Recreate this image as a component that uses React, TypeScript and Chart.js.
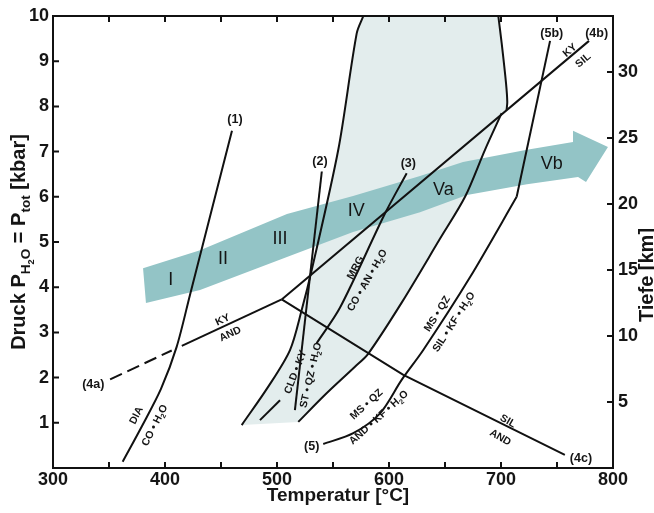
import React, { useEffect, useRef } from "react";
import { Chart, registerables } from "chart.js";

Chart.register(...registerables);

const FONT = '"Liberation Sans", Arial, Helvetica, sans-serif';

// ---------- axes ----------
const tempMin = 300;
const tempMax = 800;
const pressureMin = 0;
const pressureMax = 10;
const depthMax = 34.24; // km at 10 kbar

// ---------- reaction curves (T in °C, P in kbar) ----------
// (1) DIA = CO + H2O
const diaT = [362.2, 379.5, 396.4, 410.4, 422.3, 459.8];
const diaP = [0.14, 0.93, 1.75, 2.68, 3.83, 7.46];

// (4a) KY / AND (dashed part + solid part)
const kyAndDashedT = [351, 406];
const kyAndDashedP = [1.96, 2.6];
const kyAndT = [415, 504.2];
const kyAndP = [2.7, 3.73];
// (4b) KY / SIL
const kySilT = [504.2, 778.6];
const kySilP = [3.73, 9.45];
// (4c) SIL / AND
const andSilT = [504.2, 612.8, 757];
const andSilP = [3.73, 2.06, 0.29];

// (2) CLD + KY = ST + QZ + H2O
const cldKyT = [516, 540];
const cldKyP = [1.28, 6.56];
const cldLowT = [484.8, 502.7];
const cldLowP = [1.06, 1.5];

// (3) MRG = CO + AN + H2O
const mrgT = [535.4, 556.3, 596.4, 615.8];
const mrgP = [2.76, 3.55, 5.63, 6.52];

// (5) MS + QZ = AND/SIL + KF + H2O, (5b)
const msQzT = [541.3, 568.1, 592, 611.3, 630.6, 672.3, 714];
const msQzP = [0.53, 0.77, 1.21, 1.95, 2.61, 4.22, 6.0];
const msQzHighT = [714, 743.8];
const msQzHighP = [6.0, 9.45];

// staurolite field boundaries (shaded field)
const stLowT = [468.5, 492.2, 511.6, 522.1, 531, 554.7, 571.2, 577.1];
const stLowP = [0.95, 1.8, 2.61, 3.5, 4.38, 7.04, 9.62, 10];
const stHighT = [519, 542.9, 569.6, 581.2, 611.6, 645.5, 667.9, 685.7, 700.6];
const stHighP = [1.02, 1.62, 2.24, 2.52, 3.67, 5.07, 6.0, 7.04, 7.85];
const stTopT = [705, 705.6, 704.5, 700.6, 697.6];
const stTopP = [7.92, 8.1, 8.51, 9.4, 10];

// geotherm arrow outline
const arrowT = [380.4, 431.3, 508.9, 567.9, 627.7, 666.1, 723.2, 764.3, 764.3, 795.5, 775.9, 768.8, 723.2, 669.6, 627.7, 567.9, 508.9, 431.3, 383];
const arrowP = [4.42, 4.82, 5.62, 6.02, 6.46, 6.77, 7.04, 7.21, 7.46, 7.1, 6.33, 6.44, 6.28, 6.04, 5.66, 5.22, 4.67, 3.94, 3.65];

// ---------- labels ----------
const curveLabels = ["(1)", "(2)", "(3)", "(4a)", "(4b)", "(4c)", "(5)", "(5b)"];
const curveLabelT = [462.5, 538.4, 617.2, 336, 785.4, 771.4, 531, 745.3];
const curveLabelP = [7.74, 6.81, 6.76, 1.86, 9.64, 0.24, 0.49, 9.64];

const zoneLabels = ["I", "II", "III", "IV", "Va", "Vb"];
const zoneT = [405.2, 451.8, 502.7, 570.8, 648.5, 745.3];
const zoneP = [4.2, 4.65, 5.1, 5.71, 6.19, 6.76];

const phaseLabels = ["KY", "AND", "DIA", "CO • H_2O", "CLD • KY", "ST • QZ • H_2O", "MRG", "CO • AN • H_2O", "MS • QZ", "AND • KF • H_2O", "MS • QZ", "SIL • KF • H_2O", "SIL", "AND", "KY", "SIL"];
const phaseT = [451.2, 458, 373.8, 390.2, 516, 529.5, 569.6, 580.1, 579.5, 590.5, 642.6, 657.4, 706.5, 699.7, 761, 772.9];
const phaseP = [3.29, 2.98, 1.17, 0.95, 2.13, 2.06, 4.44, 4.16, 1.42, 1.13, 3.42, 3.24, 1.05, 0.69, 9.25, 9.03];
const phaseAngle = [-25, -25, -63, -63, -69, -77, -62, -60, -42, -42, -58, -57, 30, 30, -40, -40];

const xTitle = "Temperatur [°C]";
const yTitle = "Druck P_{H_2O} = P_{tot} [kbar]";
const y2Title = "Tiefe [km]";

// ---------- helpers ----------
const pts = (t: number[], p: number[]) => t.map((x, i) => ({ x, y: p[i] }));

type Seg = { text: string; level: number };
function parseRich(s: string, level = 0): Seg[] {
  const out: Seg[] = [];
  let buf = "";
  let i = 0;
  const flush = () => {
    if (buf) {
      out.push({ text: buf, level });
      buf = "";
    }
  };
  while (i < s.length) {
    const c = s[i];
    if (c === "_") {
      flush();
      if (s[i + 1] === "{") {
        let depth = 1;
        let j = i + 2;
        while (j < s.length && depth > 0) {
          if (s[j] === "{") depth++;
          else if (s[j] === "}") depth--;
          j++;
        }
        out.push(...parseRich(s.slice(i + 2, j - 1), level + 1));
        i = j;
      } else {
        out.push({ text: s[i + 1], level: level + 1 });
        i += 2;
      }
    } else {
      buf += c;
      i++;
    }
  }
  flush();
  return out;
}

function drawRich(
  ctx: CanvasRenderingContext2D,
  text: string,
  x: number,
  y: number,
  size: number,
  weight: string,
  angleDeg: number,
  centerV: boolean
) {
  const segs = parseRich(text);
  const sizes = segs.map((s) => size * Math.pow(0.68, s.level));
  const offs = segs.map((s) => {
    let o = 0;
    for (let l = 1; l <= s.level; l++) o += size * Math.pow(0.68, l - 1) * 0.27;
    return o;
  });
  const widths = segs.map((s, i) => {
    ctx.font = `${weight} ${sizes[i]}px ${FONT}`;
    return ctx.measureText(s.text).width;
  });
  const total = widths.reduce((a, b) => a + b, 0);
  ctx.save();
  ctx.translate(x, y);
  ctx.rotate((angleDeg * Math.PI) / 180);
  ctx.textAlign = "left";
  ctx.textBaseline = "alphabetic";
  let cx = -total / 2;
  const by = centerV ? size * 0.36 : 0;
  segs.forEach((s, i) => {
    ctx.font = `${weight} ${sizes[i]}px ${FONT}`;
    ctx.fillText(s.text, cx, by + offs[i]);
    cx += widths[i];
  });
  ctx.restore();
}

const decorPlugin = {
  id: "decor",
  afterDatasetsDraw(chart: any) {
    const ctx: CanvasRenderingContext2D = chart.ctx;
    const xs = chart.scales.x;
    const ys = chart.scales.y;
    ctx.save();
    ctx.fillStyle = "#151515";
    zoneLabels.forEach((t, i) => {
      drawRich(ctx, t, xs.getPixelForValue(zoneT[i]), ys.getPixelForValue(zoneP[i]), 18, "normal", 0, true);
    });
    curveLabels.forEach((t, i) => {
      drawRich(ctx, t, xs.getPixelForValue(curveLabelT[i]), ys.getPixelForValue(curveLabelP[i]), 12.5, "bold", 0, true);
    });
    phaseLabels.forEach((t, i) => {
      drawRich(ctx, t, xs.getPixelForValue(phaseT[i]), ys.getPixelForValue(phaseP[i]), 10.5, "bold", phaseAngle[i], true);
    });
    ctx.restore();
  },
  afterDraw(chart: any) {
    const ctx: CanvasRenderingContext2D = chart.ctx;
    const a = chart.chartArea;
    const xs = chart.scales.x;
    const ys = chart.scales.y;
    const y2 = chart.scales.y2;
    ctx.save();
    ctx.strokeStyle = "#111";
    ctx.lineWidth = 2;
    ctx.strokeRect(a.left, a.top, a.right - a.left, a.bottom - a.top);
    const tl = 6;
    ctx.beginPath();
    xs.ticks.forEach((t: any) => {
      if (t.value <= tempMin || t.value >= tempMax) return;
      const px = xs.getPixelForValue(t.value);
      ctx.moveTo(px, a.bottom);
      ctx.lineTo(px, a.bottom - tl);
      ctx.moveTo(px, a.top);
      ctx.lineTo(px, a.top + tl);
    });
    ys.ticks.forEach((t: any) => {
      if (t.value <= pressureMin || t.value >= pressureMax) return;
      const py = ys.getPixelForValue(t.value);
      ctx.moveTo(a.left, py);
      ctx.lineTo(a.left + tl, py);
    });
    y2.ticks.forEach((t: any) => {
      if (t.value <= 0 || t.value >= depthMax) return;
      const py = y2.getPixelForValue(t.value);
      ctx.moveTo(a.right, py);
      ctx.lineTo(a.right - tl, py);
    });
    ctx.stroke();

    ctx.fillStyle = "#151515";
    drawRich(ctx, xTitle, (a.left + a.right) / 2 + 5, 501, 19, "bold", 0, false);
    drawRich(ctx, yTitle, 25, (a.top + a.bottom) / 2, 20, "bold", -90, false);
    drawRich(ctx, y2Title, 653, 275, 20, "bold", -90, false);
    ctx.restore();
  },
};

export default function App() {
  const ref = useRef<HTMLCanvasElement | null>(null);

  useEffect(() => {
    if (!ref.current) return;
    const lineDs = (t: number[], p: number[], extra: any = {}) => ({
      data: pts(t, p),
      showLine: true,
      borderColor: "#111",
      borderWidth: 2,
      pointRadius: 0,
      fill: false,
      tension: 0.3,
      order: 1,
      ...extra,
    });

    const fieldT = [...stLowT, ...stTopT.slice().reverse(), ...stHighT.slice().reverse()];
    const fieldP = [...stLowP, ...stTopP.slice().reverse(), ...stHighP.slice().reverse()];

    const datasets: any[] = [
      {
        data: pts(fieldT, fieldP),
        showLine: true,
        fill: "shape",
        backgroundColor: "#e3eded",
        borderWidth: 0,
        borderColor: "rgba(0,0,0,0)",
        pointRadius: 0,
        tension: 0,
        order: 10,
      },
      {
        data: pts(arrowT, arrowP),
        showLine: true,
        fill: "shape",
        backgroundColor: "#93c4c6",
        borderWidth: 0,
        borderColor: "rgba(0,0,0,0)",
        pointRadius: 0,
        tension: 0,
        order: 9,
      },
      lineDs(diaT, diaP),
      lineDs(kyAndDashedT, kyAndDashedP, { borderDash: [13, 6], tension: 0 }),
      lineDs(kyAndT, kyAndP, { tension: 0 }),
      lineDs(kySilT, kySilP, { tension: 0 }),
      lineDs(andSilT, andSilP, { tension: 0 }),
      lineDs(cldKyT, cldKyP, { tension: 0 }),
      lineDs(cldLowT, cldLowP, { tension: 0 }),
      lineDs(mrgT, mrgP),
      lineDs(msQzT, msQzP),
      lineDs(msQzHighT, msQzHighP, { tension: 0 }),
      lineDs(stLowT, stLowP),
      lineDs(stHighT, stHighP),
      lineDs(stTopT, stTopP),
    ];

    const tickFont = { family: FONT, size: 18, weight: "bold" as const };

    const chart = new Chart(ref.current, {
      type: "scatter",
      data: { datasets },
      options: {
        responsive: false,
        animation: false,
        events: [],
        layout: { padding: { top: 16, left: 0, right: 0, bottom: 0 } },
        plugins: {
          legend: { display: false },
          tooltip: { enabled: false },
          title: { display: false },
        },
        scales: {
          x: {
            type: "linear",
            position: "bottom",
            min: tempMin,
            max: tempMax,
            grid: { display: false, drawTicks: false },
            border: { display: false },
            ticks: {
              stepSize: 50,
              autoSkip: false,
              maxRotation: 0,
              padding: 1,
              color: "#151515",
              font: tickFont,
              callback: (v: any) => (Number(v) % 100 === 0 ? String(v) : ""),
            },
            afterFit: (s: any) => {
              s.height = 45;
            },
          },
          y: {
            type: "linear",
            position: "left",
            min: pressureMin,
            max: pressureMax,
            grid: { display: false, drawTicks: false },
            border: { display: false },
            ticks: {
              stepSize: 1,
              padding: 4,
              color: "#151515",
              font: tickFont,
              callback: (v: any) => (Number(v) === 0 ? "" : String(v)),
            },
            afterFit: (s: any) => {
              s.width = 53;
            },
          },
          y2: {
            type: "linear",
            position: "right",
            min: 0,
            max: depthMax,
            grid: { display: false, drawTicks: false },
            border: { display: false },
            ticks: {
              stepSize: 5,
              includeBounds: false,
              padding: 5,
              color: "#151515",
              font: tickFont,
              callback: (v: any) => (Number(v) === 0 ? "" : String(v)),
            },
            afterFit: (s: any) => {
              s.width = 41;
            },
          },
        },
      } as any,
      plugins: [decorPlugin],
    });
    return () => chart.destroy();
  }, []);

  return (
    <div style={{ position: "absolute", left: 0, top: 0, width: 654, height: 513, background: "#fff" }}>
      <canvas ref={ref} width={654} height={513} style={{ display: "block", width: 654, height: 513 }} />
    </div>
  );
}
